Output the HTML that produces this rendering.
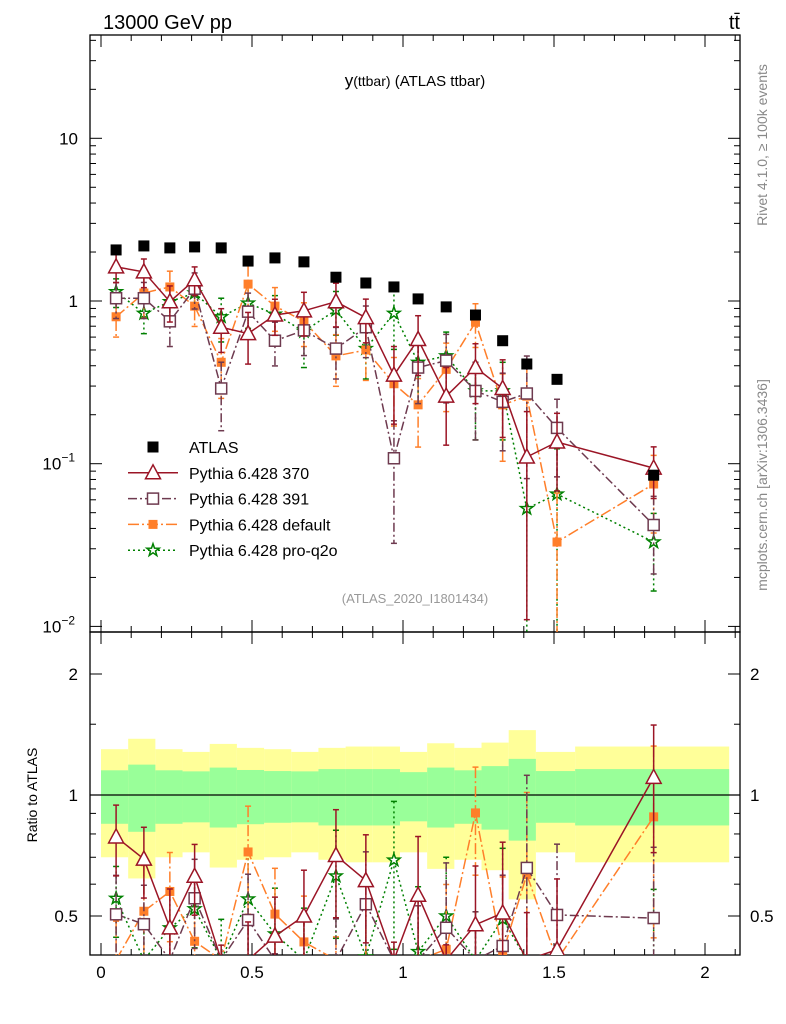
<!DOCTYPE html>
<html><head><meta charset="utf-8"><style>
html,body{margin:0;padding:0;background:#fff;width:786px;height:1024px;overflow:hidden}
svg{display:block;font-family:"Liberation Sans",sans-serif}
</style></head><body>
<svg id="c" width="786" height="1024" viewBox="0 0 786 1024">
<defs>
<clipPath id="cm"><rect x="90" y="35" width="650" height="597"/></clipPath>
<clipPath id="cr"><rect x="90" y="632" width="650" height="323"/></clipPath>
</defs>
<text x="103" y="29" font-size="20">13000 GeV pp</text>
<text x="740" y="29" font-size="20" text-anchor="end">tt̄</text>
<text x="415" y="86" font-size="17" text-anchor="middle">y<tspan font-size="14">(ttbar)</tspan><tspan font-size="15"> (ATLAS ttbar)</tspan></text>
<text x="415" y="603" font-size="13" fill="#999" text-anchor="middle">(ATLAS_2020_I1801434)</text>
<text transform="translate(767,145) rotate(-90)" font-size="14" fill="#888" text-anchor="middle">Rivet 4.1.0, ≥ 100k events</text>
<text transform="translate(767,485) rotate(-90)" font-size="14" fill="#888" text-anchor="middle">mcplots.cern.ch [arXiv:1306.3436]</text>
<text transform="translate(37,795) rotate(-90)" font-size="14" text-anchor="middle">Ratio to ATLAS</text>
<g id="bands"></g><g id="axes"></g><g id="series"></g><g id="legend"></g>
</svg>
<script>
const edges=[0,0.09,0.18,0.27,0.36,0.45,0.54,0.63,0.72,0.81,0.9,0.99,1.08,1.17,1.26,1.35,1.44,1.57,2.08];
const xs=[0.05,0.142,0.228,0.31,0.398,0.487,0.576,0.672,0.778,0.877,0.97,1.05,1.143,1.24,1.33,1.41,1.51,1.83];
const atlas=[2.06,2.18,2.12,2.15,2.12,1.76,1.84,1.74,1.40,1.29,1.22,1.03,0.92,0.82,0.57,0.41,0.33,0.085];
const statErr=[0.152,0.19,0.152,0.145,0.17,0.154,0.147,0.145,0.16,0.16,0.16,0.14,0.17,0.152,0.18,0.23,0.147,0.16];
const totErr=[0.30,0.38,0.30,0.28,0.34,0.31,0.30,0.28,0.31,0.32,0.32,0.28,0.345,0.31,0.35,0.45,0.28,0.32];
const p370=[1.62,1.51,0.99,1.35,0.69,0.63,0.82,0.87,0.99,0.79,0.35,0.58,0.26,0.39,0.29,0.11,0.136,0.094];
const e370=[0.2,0.2,0.25,0.2,0.3,0.35,0.25,0.3,0.3,0.3,0.5,0.4,0.5,0.4,0.5,0.9,0.5,0.35];
const p391=[1.04,1.04,0.75,1.19,0.29,0.86,0.57,0.66,0.51,0.69,0.108,0.39,0.43,0.28,0.24,0.27,0.166,0.042];
const e391=[0.25,0.25,0.3,0.25,0.45,0.3,0.3,0.3,0.35,0.35,0.7,0.4,0.45,0.5,0.5,0.7,0.5,0.5];
const pdef=[0.80,1.12,1.22,0.93,0.42,1.27,0.93,0.75,0.46,0.50,0.31,0.23,0.38,0.74,0.23,0.26,0.033,0.075];
const edef=[0.25,0.3,0.25,0.25,0.4,0.3,0.3,0.3,0.35,0.35,0.45,0.45,0.45,0.3,0.55,0.6,1.0,0.5];
const pq2o=[1.14,0.84,0.99,1.12,0.80,0.97,0.83,0.65,0.88,0.51,0.84,0.42,0.46,0.28,0.28,0.053,0.065,0.033];
const eq2o=[0.2,0.25,0.25,0.2,0.3,0.3,0.3,0.4,0.3,0.35,0.4,0.45,0.4,0.5,0.5,1.0,0.9,0.5];
const xTicks=[0,0.5,1,1.5,2];
const xTickLabels=["0","0.5","1","1.5","2"];

const NS="http://www.w3.org/2000/svg";
const X=v=>101+302*v;
const Y=v=>301-162.7*Math.log10(v);
const R=r=>795-121*Math.log2(r);
function mk(p,tag,at){const e=document.createElementNS(NS,tag);for(const k in at)e.setAttribute(k,at[k]);p.appendChild(e);return e;}
const bands=document.getElementById('bands'),axes=document.getElementById('axes'),ser=document.getElementById('series'),leg=document.getElementById('legend');

for(let i=0;i<atlas.length;i++){
 const x0=X(edges[i]),x1=X(edges[i+1]);
 const yt=R(1+totErr[i]),yb=Math.min(955,R(1-totErr[i]));
 const y=mk(bands,'rect',{x:x0,y:yt,width:x1-x0,height:yb-yt,fill:'#ffff99'});
 
 
}
for(let i=0;i<atlas.length;i++){
 const x0=X(edges[i]),x1=X(edges[i+1]);
 const g=mk(bands,'rect',{x:x0,y:R(1+statErr[i]),width:x1-x0,height:R(1-statErr[i])-R(1+statErr[i]),fill:'#99ff99'});
 
 
}
const one=mk(bands,'line',{x1:90,x2:740,y1:R(1),y2:R(1),stroke:'#000','stroke-width':1.3});



const f1=mk(axes,'rect',{x:90,y:35,width:650,height:597,fill:'none',stroke:'#000','stroke-width':1.3});


const f2=mk(axes,'rect',{x:90,y:632,width:650,height:323,fill:'none',stroke:'#000','stroke-width':1.3});



for(let k=0;k<=21;k++){const v=k*0.1;const x=X(v);if(x<90||x>740)continue;const major=k%5===0;const L=major?12:6;
 for(const [yb,dir] of [[955,-1],[632,1],[632,-1],[35,1]]){
  const t=mk(axes,'line',{x1:x,x2:x,y1:yb,y2:yb+dir*L,stroke:'#000','stroke-width':1});
  
  
 }}
xTicks.forEach((v,i)=>{const t=mk(axes,'text',{x:X(v),y:978,'font-size':17,'text-anchor':'middle'});t.textContent=xTickLabels[i];
 
 });
for(let d=-2;d<=1;d++){for(let m=1;m<10;m++){const v=m*Math.pow(10,d);const y=Y(v);if(y<35||y>632)continue;const L=m===1?12:6;
 for(const [xb,dir] of [[90,1],[740,-1]]){const t=mk(axes,'line',{x1:xb,x2:xb+dir*L,y1:y,y2:y,stroke:'#000','stroke-width':1});
  
  }}}
const ylab=[[10,'10',''],[1,'1',''],[0.1,'10','−1'],[0.01,'10','−2']];
ylab.forEach(([v,b,e])=>{const t=mk(axes,'text',{x:e?75:78,y:Y(v)+6,'font-size':17,'text-anchor':'end'});t.textContent=b;
 if(e){const s=mk(t,'tspan',{dy:-8,'font-size':12});s.textContent=e;}
 
 });
const rt=[0.5,0.6,0.7,0.8,0.9,1,1.5,2];
rt.forEach(r=>{const y=R(r);const L=(r===0.5||r===1||r===2)?12:6;
 for(const [xb,dir] of [[90,1],[740,-1]]){const t=mk(axes,'line',{x1:xb,x2:xb+dir*L,y1:y,y2:y,stroke:'#000','stroke-width':1});
  
  }});
[[2,'2'],[1,'1'],[0.5,'0.5']].forEach(([r,s])=>{for(const [x,a] of [[78,'end'],[750,'start']]){const t=mk(axes,'text',{x:x,y:R(r)+6,'font-size':17,'text-anchor':a});t.textContent=s;
 
 }});

function marker(p,type,x,y,col){
 const s=type;
 if(s==='sq')return mk(p,'rect',{x:x-5.5,y:y-5.5,width:11,height:11,fill:'#000'});
 if(s==='tri')return mk(p,'polygon',{points:`${x},${y-8} ${x-7.5},${y+6} ${x+7.5},${y+6}`,fill:'#fff',stroke:col,'stroke-width':1.5});
 if(s==='osq')return mk(p,'rect',{x:x-5.5,y:y-5.5,width:11,height:11,fill:'#fff',stroke:col,'stroke-width':1.5});
 if(s==='fsq')return mk(p,'rect',{x:x-4.5,y:y-4.5,width:9,height:9,fill:col});
 if(s==='star'){let pts=[];for(let k=0;k<10;k++){const r=k%2?2.6:6.5;const a=-Math.PI/2+k*Math.PI/5;pts.push((x+r*Math.cos(a)).toFixed(1)+','+(y+r*Math.sin(a)).toFixed(1));}
  return mk(p,'polygon',{points:pts.join(' '),fill:'#fff',stroke:col,'stroke-width':1.5});}
}
const series=[
 {name:'Pythia 6.428 370',id:'p370',v:p370,e:e370,col:'#9b1526',m:'tri',dash:''},
 {name:'Pythia 6.428 391',id:'p391',v:p391,e:e391,col:'#6e3a4f',m:'osq',dash:'9,3,2,3'},
 {name:'Pythia 6.428 default',id:'pdef',v:pdef,e:edef,col:'#ff7f2a',m:'fsq',dash:'11,3,2,3'},
 {name:'Pythia 6.428 pro-q2o',id:'pq2o',v:pq2o,e:eq2o,col:'#008000',m:'star',dash:'2,3'}
];
series.slice().reverse().forEach(s=>{
 for(const panel of ['main','ratio']){
  const g=mk(ser,'g',{'clip-path':panel==='main'?'url(#cm)':'url(#cr)'});
  
  
  const val=i=>panel==='main'?s.v[i]:s.v[i]/atlas[i];
  const YY=panel==='main'?Y:R;
  const ymax=panel==='main'?640:960;
  const cy=y=>Math.min(ymax,y);
  const pts=s.v.map((_,i)=>X(xs[i]).toFixed(1)+','+cy(YY(val(i))).toFixed(1)).join(' ');
  const ln=mk(g,'polyline',{points:pts,fill:'none',stroke:s.col,'stroke-width':1.5,'stroke-dasharray':s.dash});
  
  
  s.v.forEach((_,i)=>{const v=val(i),x=X(xs[i]);const hi=v*(1+s.e[i]);const lo=v*(1-s.e[i]);
   const yh=cy(YY(hi)),yl=lo>0?cy(YY(lo)):ymax;
   const eb=mk(g,'line',{x1:x,x2:x,y1:yh,y2:yl,stroke:s.col,'stroke-width':1.5,'stroke-dasharray':s.dash});
   
   
   for(const yy of [yh,yl]){if(yy>=ymax)continue;const c=mk(g,'line',{x1:x-3,x2:x+3,y1:yy,y2:yy,stroke:s.col,'stroke-width':1.5});
    
    }
   const yv=YY(v);
   if(yv<ymax){const mm=marker(g,s.m,x,yv,s.col);
    
    }
  });
 }
});
const ga=mk(ser,'g',{'clip-path':'url(#cm)'});


atlas.forEach((v,i)=>{const m=marker(ga,'sq',X(xs[i]),Y(v),'#000');
 
 });

const lrows=[{name:'ATLAS',m:'sq',col:'#000',dash:null}].concat(series);
lrows.forEach((s,k)=>{const y=447+k*25.8;
 const g=mk(leg,'g',{});
 
 
 if(s.dash!==null){const l=mk(g,'line',{x1:128,x2:178,y1:y,y2:y,stroke:s.col,'stroke-width':1.5,'stroke-dasharray':s.dash});
  
  }
 const m=marker(g,s.m,153,y,s.col);
 
 
 const t=mk(g,'text',{x:189,y:y+6,'font-size':16});t.textContent=s.name;
 
 
});
</script>
</body></html>
